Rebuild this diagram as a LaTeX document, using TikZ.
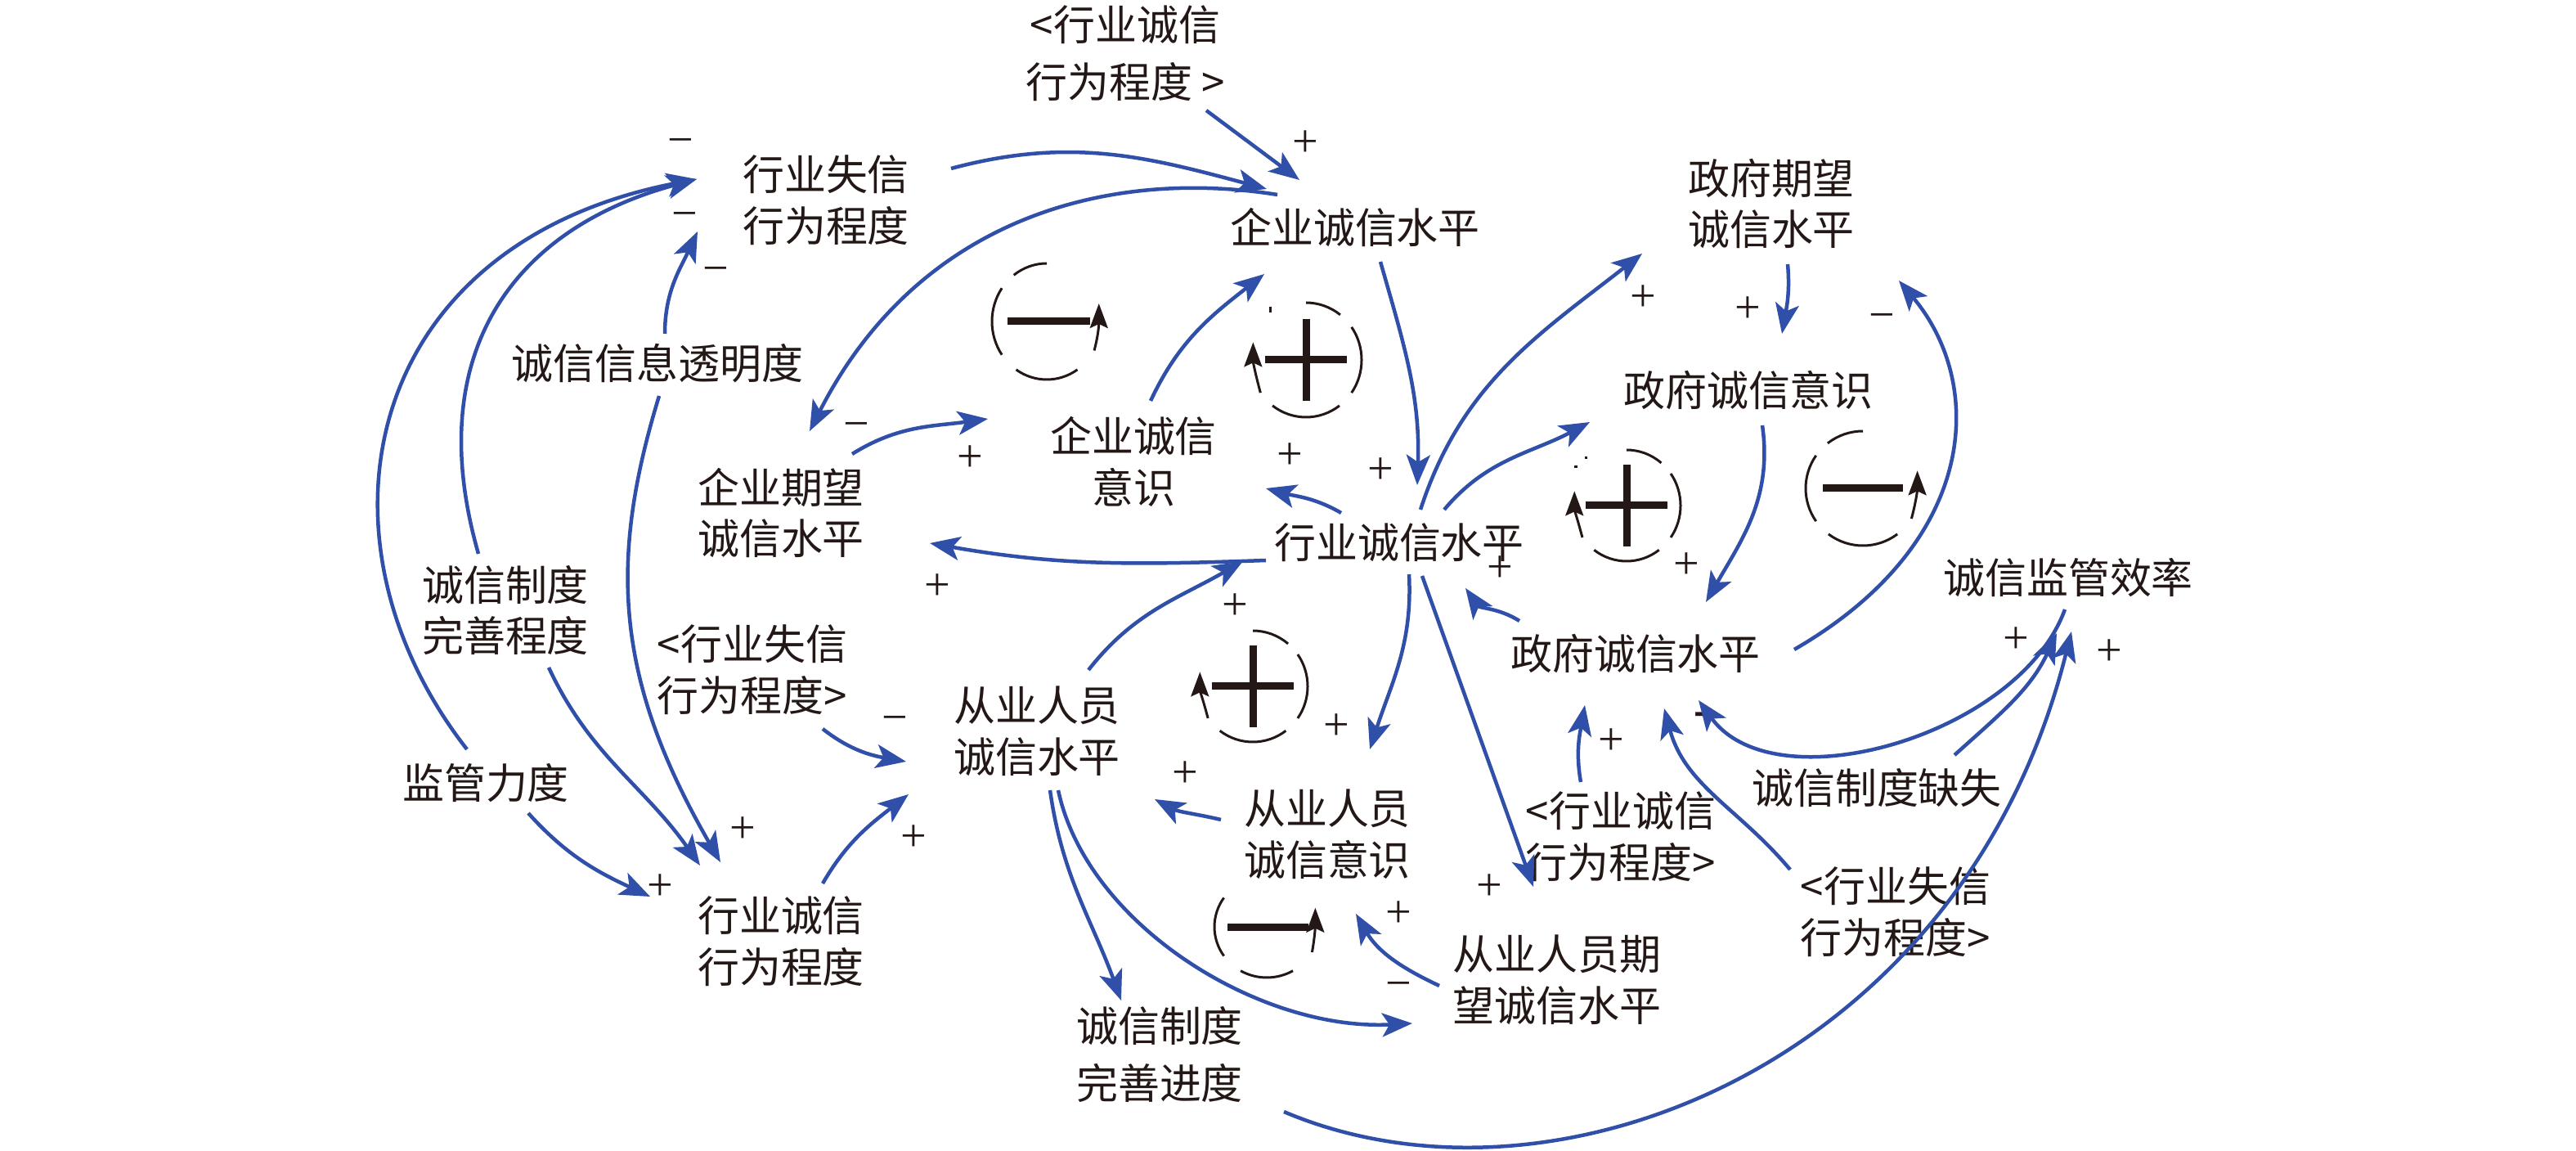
\documentclass[tikz,border=0pt]{standalone}
\usepackage{fontspec}
\setmainfont{Noto Sans CJK SC}
\newfontfamily\signfont{Liberation Serif}
\usetikzlibrary{arrows.meta}
\definecolor{linkblue}{HTML}{2F4FA9}
\definecolor{loopblack}{HTML}{231815}

\begin{document}
\begin{tikzpicture}[
    var/.style={text=loopblack, align=center, inner sep=0pt, font=\fontsize{14.5}{17.9}\selectfont},
    sign/.style={text=loopblack, inner sep=0pt, font=\fontsize{16}{18}\signfont},
    arrow/.style={line width=0.045cm, draw=linkblue, -{Stealth[length=3.7mm,width=2.9mm,inset=0.9mm]}},
    loopline/.style={line width=0.03cm, draw=loopblack},
    looptip/.style={-{Stealth[length=3mm,width=2.2mm,inset=0.5mm]}},
    loopbar/.style={line width=0.09cm, draw=loopblack}
]
\useasboundingbox (0,0) rectangle (31.5,-14.07);

% Variables
\node [var] (hysx) at (10.10,-2.45) {行业失信\\行为程度};
\node [var] (xct) at (13.76,-0.65) {<行业诚信\\[2pt]行为程度 >};
\node [var] (qyl) at (16.57,-2.78) {企业诚信水平};
\node [var] (zfqw) at (21.66,-2.49) {政府期望\\诚信水平};
\node [var] (zfys) at (21.38,-4.77) {政府诚信意识};
\node [var] (tmd) at (8.04,-4.44) {诚信信息透明度};
\node [var] (qyqw) at (9.55,-6.27) {企业期望\\诚信水平};
\node [var] (qyys) at (13.86,-5.64) {企业诚信\\意识};
\node [var] (hyl) at (17.11,-6.63) {行业诚信水平};
\node [var] (jgxl) at (25.29,-7.06) {诚信监管效率};
\node [var] (zfl) at (20.00,-7.99) {政府诚信水平};
\node [var] (zdws) at (6.18,-7.46) {诚信制度\\完善程度};
\node [var] (sxl) at (9.20,-8.19) {<行业失信\\行为程度>};
\node [var] (cyl) at (12.68,-8.94) {从业人员\\诚信水平};
\node [var] (jgld) at (5.94,-9.57) {监管力度};
\node [var] (cxw) at (9.55,-11.51) {行业诚信\\行为程度};
\node [var] (cyys) at (16.23,-10.20) {从业人员\\诚信意识};
\node [var] (cxr) at (19.82,-10.23) {<行业诚信\\行为程度>};
\node [var] (zdqs) at (22.95,-9.63) {诚信制度缺失};
\node [var] (sxr) at (23.18,-11.15) {<行业失信\\行为程度>};
\node [var] (cyqw) at (19.04,-11.98) {从业人员期\\望诚信水平};
\node [var] (jdjd) at (14.18,-12.89) {诚信制度\\[2pt]完善进度};

% Signs
\node [sign] (minus1) at (8.32,-1.79) {−};
\node [sign] (minus2) at (8.37,-2.69) {−};
\node [sign] (minus3) at (8.75,-3.36) {−};
\node [sign] (minus4) at (10.47,-5.26) {−};
\node [sign] (minus5) at (23.01,-3.93) {−};
\node [sign] (minus6) at (10.94,-8.85) {−};
\node [sign] (minus7) at (17.10,-12.10) {−};
\node [sign] (dash1) at (20.81,-8.79) {\bfseries -};
\node [sign] (plus1) at (11.86,-5.61) {+};
\node [sign] (plus2) at (15.96,-1.76) {+};
\node [sign] (plus3) at (20.09,-3.65) {+};
\node [sign] (plus4) at (21.37,-3.79) {+};
\node [sign] (plus5) at (15.77,-5.58) {+};
\node [sign] (plus6) at (16.88,-5.76) {+};
\node [sign] (plus7) at (18.34,-6.96) {+};
\node [sign] (plus8) at (20.62,-6.92) {+};
\node [sign] (plus9) at (15.10,-7.42) {+};
\node [sign] (plus10) at (24.65,-7.83) {+};
\node [sign] (plus11) at (25.79,-7.98) {+};
\node [sign] (plus12) at (11.46,-7.18) {+};
\node [sign] (plus13) at (9.08,-10.15) {+};
\node [sign] (plus14) at (11.17,-10.25) {+};
\node [sign] (plus15) at (8.07,-10.85) {+};
\node [sign] (plus16) at (16.34,-8.89) {+};
\node [sign] (plus17) at (14.49,-9.47) {+};
\node [sign] (plus18) at (19.70,-9.07) {+};
\node [sign] (plus19) at (18.21,-10.85) {+};
\node [sign] (plus20) at (17.10,-11.18) {+};

% Connectors
\draw [arrow] ([shift={(1.53,0.39)}]hysx.center) to[out=15,in=165] ([shift={(-1.08,0.47)}]qyl.center);
\draw [arrow] ([shift={(-0.95,0.40)}]qyl.center) .. controls +(171:2.15) and +(63:2.88) .. ([shift={(0.35,1.00)}]qyqw.center);
\draw [arrow] ([shift={(0.99,-0.70)}]xct.center) -- ([shift={(-0.68,0.58)}]qyl.center);
\draw [arrow] ([shift={(0.31,-0.42)}]qyl.center) to[out=-74,in=88] ([shift={(0.22,0.70)}]hyl.center);
\draw [arrow] ([shift={(0.21,0.74)}]qyys.center) to[out=65,in=218] ([shift={(-1.11,-0.57)}]qyl.center);
\draw [arrow] ([shift={(0.87,0.72)}]qyqw.center) to[out=32,in=188] ([shift={(-1.78,0.52)}]qyys.center);
\draw [arrow] ([shift={(-0.71,0.36)}]hyl.center) to[out=150,in=-15] ([shift={(1.62,-0.33)}]qyys.center);
\draw [arrow] ([shift={(-1.63,-0.22)}]hyl.center) to[out=182,in=-10] ([shift={(1.82,-0.37)}]qyqw.center);
\draw [arrow] ([shift={(0.26,0.40)}]hyl.center) to[out=72,in=218] ([shift={(-1.58,-0.61)}]zfqw.center);
\draw [arrow] ([shift={(0.55,0.40)}]hyl.center) to[out=50,in=208] ([shift={(-1.94,-0.39)}]zfys.center);
\draw [arrow] ([shift={(0.20,-0.74)}]zfqw.center) to[out=-85,in=80] ([shift={(0.41,0.69)}]zfys.center);
\draw [arrow] ([shift={(0.17,-0.43)}]zfys.center) to[out=-82,in=60] ([shift={(0.86,0.63)}]zfl.center);
\draw [arrow] ([shift={(1.94,0.05)}]zfl.center) .. controls +(30:2.60) and +(-50:1.67) .. ([shift={(1.56,-0.94)}]zfqw.center);
\draw [arrow] ([shift={(-1.42,0.40)}]zfl.center) to[out=148,in=-55] ([shift={(0.81,-0.56)}]hyl.center);
\draw [arrow] ([shift={(0.63,0.75)}]cyl.center) to[out=52,in=210] ([shift={(-1.91,-0.23)}]hyl.center);
\draw [arrow] ([shift={(0.12,-0.39)}]hyl.center) to[out=-87,in=72] ([shift={(0.52,1.04)}]cyys.center);
\draw [arrow] ([shift={(0.28,-0.41)}]hyl.center) -- ([shift={(-0.29,1.14)}]cyqw.center);
\draw [arrow] ([shift={(-1.30,0.18)}]cyys.center) to[out=167,in=-28] ([shift={(1.44,-0.83)}]cyl.center);
\draw [arrow] ([shift={(0.16,-0.72)}]cyl.center) to[out=-82,in=110] ([shift={(-0.47,0.66)}]jdjd.center);
\draw [arrow] ([shift={(0.26,-0.72)}]cyl.center) .. controls +(-78:1.68) and +(183:1.87) .. ([shift={(-1.77,-0.53)}]cyqw.center);
\draw [arrow] ([shift={(-1.44,-0.07)}]cyqw.center) to[out=155,in=-60] ([shift={(0.35,-0.97)}]cyys.center);
\draw [arrow] ([shift={(1.52,-0.70)}]jdjd.center) .. controls +(-23:3.59) and +(256:5.44) .. ([shift={(0.04,-0.66)}]jgxl.center);
\draw [arrow] ([shift={(-0.04,-0.39)}]jgxl.center) .. controls +(-110:1.64) and +(-54:1.59) .. ([shift={(0.77,-0.57)}]zfl.center);
\draw [arrow] ([shift={(0.95,0.40)}]zdqs.center) to[out=42,in=245] ([shift={(-0.14,-0.68)}]jgxl.center);
\draw [arrow] ([shift={(-1.29,0.52)}]sxr.center) to[out=130,in=-75] ([shift={(0.35,-0.67)}]zfl.center);
\draw [arrow] ([shift={(-0.49,0.67)}]cxr.center) to[out=100,in=-100] ([shift={(-0.62,-0.63)}]zfl.center);
\draw [arrow] ([shift={(0.09,0.36)}]tmd.center) to[out=90,in=245] ([shift={(-1.57,-0.38)}]hysx.center);
\draw [arrow] ([shift={(0.02,-0.40)}]tmd.center) .. controls +(-107:2.10) and +(120:2.60) .. ([shift={(-0.74,0.97)}]cxw.center);
\draw [arrow] ([shift={(-0.33,0.69)}]zdws.center) .. controls +(106:2.57) and +(195:2.30) .. ([shift={(-1.58,0.26)}]hysx.center);
\draw [arrow] ([shift={(-0.23,0.41)}]jgld.center) .. controls +(128:3.25) and +(191:4.20) .. ([shift={(-1.58,0.26)}]hysx.center);
\draw [arrow] ([shift={(0.53,-0.70)}]zdws.center) to[out=-65,in=125] ([shift={(-0.99,0.93)}]cxw.center);
\draw [arrow] ([shift={(0.52,-0.37)}]jgld.center) to[out=-48,in=155] ([shift={(-1.60,0.55)}]cxw.center);
\draw [arrow] ([shift={(0.51,0.71)}]cxw.center) to[out=60,in=218] ([shift={(-1.57,-0.77)}]cyl.center);
\draw [arrow] ([shift={(0.86,-0.72)}]sxl.center) to[out=-38,in=170] ([shift={(-1.60,-0.37)}]cyl.center);

% Loop marks
\begin{scope}[shift={(12.80,-3.93)},x radius=0.67,y radius=0.71]
\draw [loopbar] (-0.48,0) -- (0.53,0);
\draw [loopline] (127:0.67 and 0.71) arc [start angle=127,end angle=90];
\draw [loopline] (145:0.67 and 0.71) arc [start angle=145,end angle=215];
\draw [loopline] (236:0.67 and 0.71) arc [start angle=236,end angle=304];
\draw [loopline,looptip] (-30:0.67 and 0.71) to[out=75,in=-90] (18:0.67 and 0.71);
\end{scope}

\begin{scope}[shift={(15.97,-4.40)},x radius=0.68,y radius=0.70]
\draw [loopbar] (-0.50,0) -- (0.50,0);
\draw [loopbar] (0,-0.50) -- (0,0.50);
\draw [loopline] (90:0.68 and 0.70) arc [start angle=90,end angle=52];
\draw [loopline] (-35:0.68 and 0.70) arc [start angle=-35,end angle=35];
\draw [loopline] (233:0.68 and 0.70) arc [start angle=233,end angle=307];
\draw [loopline,looptip] (215:0.68 and 0.70) to[out=105,in=-90] (162:0.68 and 0.70);
\draw [loopline] (-0.44,0.65) -- (-0.44,0.58);
\end{scope}

\begin{scope}[shift={(19.89,-6.18)},x radius=0.66,y radius=0.68]
\draw [loopbar] (-0.50,0) -- (0.50,0);
\draw [loopbar] (0,-0.50) -- (0,0.50);
\draw [loopline] (90:0.66 and 0.68) arc [start angle=90,end angle=50];
\draw [loopline] (-35:0.66 and 0.68) arc [start angle=-35,end angle=35];
\draw [loopline] (233:0.66 and 0.68) arc [start angle=233,end angle=307];
\draw [loopline,looptip] (215:0.66 and 0.68) to[out=105,in=-90] (165:0.66 and 0.68);
\draw [loopline] (-0.50,0.60) -- (-0.50,0.57);
\draw [loopline] (-0.64,0.47) -- (-0.60,0.47);
\end{scope}

\begin{scope}[shift={(22.78,-5.97)},x radius=0.70,y radius=0.70]
\draw [loopbar] (-0.49,0) -- (0.49,0);
\draw [loopline] (128:0.70 and 0.70) arc [start angle=128,end angle=90];
\draw [loopline] (145:0.70 and 0.70) arc [start angle=145,end angle=215];
\draw [loopline] (233:0.70 and 0.70) arc [start angle=233,end angle=307];
\draw [loopline,looptip] (-32:0.70 and 0.70) to[out=75,in=-90] (18:0.70 and 0.70);
\end{scope}

\begin{scope}[shift={(15.32,-8.39)},x radius=0.67,y radius=0.68]
\draw [loopbar] (-0.50,0) -- (0.50,0);
\draw [loopbar] (0,-0.50) -- (0,0.50);
\draw [loopline] (90:0.67 and 0.68) arc [start angle=90,end angle=50];
\draw [loopline] (-35:0.67 and 0.68) arc [start angle=-35,end angle=35];
\draw [loopline] (233:0.67 and 0.68) arc [start angle=233,end angle=307];
\draw [loopline,looptip] (215:0.67 and 0.68) to[out=105,in=-90] (165:0.67 and 0.68);
\end{scope}

\begin{scope}[shift={(15.49,-11.33)},x radius=0.64,y radius=0.62]
\draw [loopbar] (-0.48,0) -- (0.51,0);
\draw [loopline] (145:0.64 and 0.62) arc [start angle=145,end angle=215];
\draw [loopline] (240:0.64 and 0.62) arc [start angle=240,end angle=300];
\draw [loopline,looptip] (-30:0.64 and 0.62) to[out=80,in=-90] (22:0.64 and 0.62);
\end{scope}

\end{tikzpicture}
\end{document}
